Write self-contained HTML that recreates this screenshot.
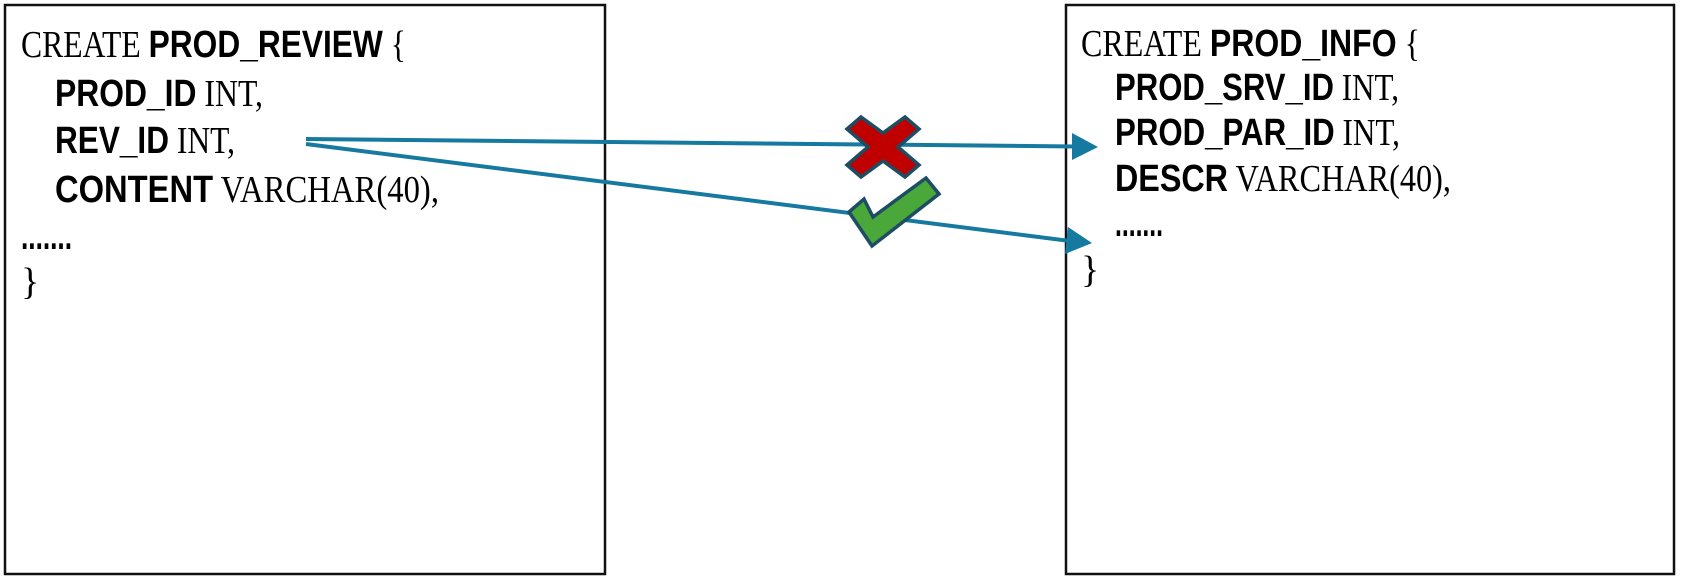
<!DOCTYPE html>
<html><head><meta charset="utf-8"><style>
html,body{margin:0;padding:0;background:#fff;}
svg{display:block;}
text{font-size:38px;fill:#000;}
.s{font-family:"Liberation Serif",serif;}
.b{font-family:"Liberation Sans",sans-serif;font-weight:bold;}
</style></head><body>
<svg width="1682" height="582" viewBox="0 0 1682 582" xmlns="http://www.w3.org/2000/svg">
<rect x="5" y="5" width="600" height="569" fill="#fff" stroke="#111" stroke-width="2.5"/>
<rect x="1066" y="5" width="608" height="569" fill="#fff" stroke="#111" stroke-width="2.5"/>

<g class="s">
<text x="21" y="57" textLength="385" lengthAdjust="spacingAndGlyphs"><tspan class="s">CREATE </tspan><tspan class="b">PROD_REVIEW</tspan><tspan class="s"> {</tspan></text>
<text x="55" y="106" textLength="208" lengthAdjust="spacingAndGlyphs"><tspan class="b">PROD_ID</tspan><tspan class="s"> INT,</tspan></text>
<text x="55" y="153" textLength="180" lengthAdjust="spacingAndGlyphs"><tspan class="b">REV_ID</tspan><tspan class="s"> INT,</tspan></text>
<text x="55" y="202" textLength="384" lengthAdjust="spacingAndGlyphs"><tspan class="b">CONTENT</tspan><tspan class="s"> VARCHAR(40),</tspan></text>
<text x="21" y="249" textLength="51" lengthAdjust="spacingAndGlyphs" class="b">.......</text>
<text x="21" y="294" class="s">}</text>

<text x="1081" y="56" textLength="339" lengthAdjust="spacingAndGlyphs"><tspan class="s">CREATE </tspan><tspan class="b">PROD_INFO</tspan><tspan class="s"> {</tspan></text>
<text x="1115" y="100" textLength="284" lengthAdjust="spacingAndGlyphs"><tspan class="b">PROD_SRV_ID</tspan><tspan class="s"> INT,</tspan></text>
<text x="1115" y="145" textLength="285" lengthAdjust="spacingAndGlyphs"><tspan class="b">PROD_PAR_ID</tspan><tspan class="s"> INT,</tspan></text>
<text x="1115" y="191" textLength="336" lengthAdjust="spacingAndGlyphs"><tspan class="b">DESCR</tspan><tspan class="s"> VARCHAR(40),</tspan></text>
<text x="1115" y="236" textLength="48" lengthAdjust="spacingAndGlyphs" class="b">.......</text>
<text x="1081" y="282" class="s">}</text>
</g>

<g stroke="#1579a0" stroke-width="4" fill="none">
<line x1="306" y1="139" x2="1076" y2="146.5"/>
<line x1="306" y1="144" x2="1070" y2="241"/>
</g>
<polygon points="1072,133 1098,147 1072,160" fill="#1579a0"/>
<polygon points="1068,227 1092,243 1065,254" fill="#1579a0"/>

<g transform="translate(883,147)">
<polygon points="-22,-30 0,-14 22,-30 36,-18 15,0 36,18 22,30 0,14 -22,30 -36,18 -15,0 -36,-18" fill="#c00000" stroke="#1d4d62" stroke-width="3.5" stroke-linejoin="miter"/>
</g>
<polygon points="849,212 864,199 873,217 926,178 939,194 872,246" fill="#4aa83a" stroke="#1d4d62" stroke-width="3.5"/>
</svg>
</body></html>
